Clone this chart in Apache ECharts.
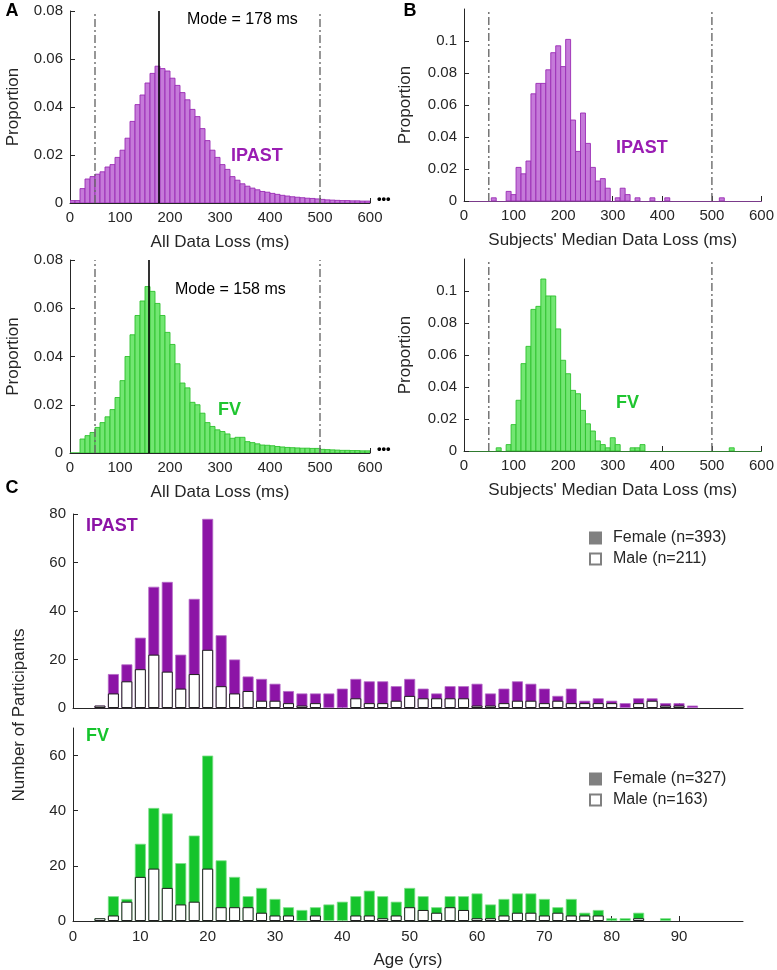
<!DOCTYPE html>
<html><head><meta charset="utf-8">
<script src="https://cdn.jsdelivr.net/npm/echarts@6/dist/echarts.min.js"></script>
<style>html,body{margin:0;padding:0;background:#fff}#c{width:777px;height:970px}</style>
</head><body><div id="c"></div>
<script>
const FONT = '"Liberation Sans", Arial, Helvetica, sans-serif';
const TXT = '#262626';

// ---------- Panel A: all data loss histograms (bin left edges, 10 ms bins) ----------
const aBinWidth = 10;
const aBinEdges = [0,10,20,30,40,50,60,70,80,90,100,110,120,130,140,150,160,170,180,190,
  200,210,220,230,240,250,260,270,280,290,300,310,320,330,340,350,360,370,380,390,
  400,410,420,430,440,450,460,470,480,490,500,510,520,530,540,550,560,570,580,590];
const aIpastProp = [0.001,0.001,0.006,0.010,0.011,0.012,0.013,0.015,0.016,0.019,
  0.022,0.027,0.034,0.041,0.045,0.050,0.054,0.057,0.056,0.055,
  0.052,0.049,0.046,0.043,0.039,0.036,0.031,0.026,0.022,0.019,
  0.016,0.014,0.011,0.0095,0.008,0.007,0.0062,0.0055,0.0048,0.0045,
  0.004,0.0036,0.0032,0.0029,0.0026,0.0024,0.0022,0.002,0.0019,0.0017,
  0.0015,0.0013,0.0012,0.0011,0.001,0.001,0.0009,0.0009,0.0008,0.0008];
const aFvProp = [0,0,0.0058,0.0072,0.0085,0.0106,0.0126,0.015,0.018,0.023,
  0.030,0.040,0.049,0.057,0.063,0.069,0.067,0.062,0.057,0.050,
  0.045,0.037,0.029,0.027,0.021,0.020,0.0165,0.0126,0.011,0.0096,
  0.0089,0.0079,0.0061,0.0065,0.0065,0.0047,0.0043,0.0038,0.0033,0.0032,
  0.003,0.0027,0.0025,0.0023,0.0022,0.0021,0.002,0.002,0.0019,0.0019,
  0.0015,0.0014,0.0013,0.0012,0.0011,0.0011,0.001,0.001,0.0009,0.0009];
const modeIpast = 178, modeFv = 158;
const cutoffs = [50, 500];

// ---------- Panel B: subjects' median data loss (bin centres, 10 ms bins) ----------
const bBinWidth = 10;
const bIpastBins = [60,90,100,110,120,130,140,150,160,170,180,190,200,210,220,230,240,250,260,270,280,290,310,320,330,350,380,410,520];
const bIpastProp = [0.002,0.006,0.004,0.021,0.017,0.025,0.067,0.0735,0.0735,0.082,0.0927,0.097,0.084,0.101,0.0506,0.031,0.055,0.036,0.021,0.0125,0.014,0.008,0.002,0.008,0.004,0.002,0.002,0.002,0.002];
const bFvBins = [70,90,100,110,120,130,140,150,160,170,180,190,200,210,220,230,240,250,260,270,280,290,300,310,340,350,360,540];
const bFvProp = [0.002,0.004,0.0165,0.0317,0.0546,0.0654,0.0885,0.0904,0.1075,0.0969,0.0969,0.0763,0.0567,0.0483,0.0379,0.0358,0.0254,0.017,0.0125,0.0063,0.004,0.002,0.0083,0.004,0.002,0.002,0.004,0.002];

// ---------- Panel C: participants by age ----------
const cAges = [4,6,8,10,12,14,16,18,20,22,24,26,28,30,32,34,36,38,40,42,44,46,48,50,52,54,56,58,60,62,64,66,68,70,72,74,76,78,80,82,84,86,88,90,92];
const cIpastTotal = [1,14,18,29,50,52,22,45,78,30,20,13,12,10,7,6,6,6,8,12,11,11,9,12,8,6,9,9,10,6,8,11,10,8,5,8,3,4,3,2,4,4,2,2,1];
const cIpastMale  = [1,6,11,16,22,15,8,14,24,9,6,7,3,3,2,1,2,0,0,4,2,2,3,5,4,4,4,4,1,1,2,3,3,2,3,2,2,2,2,0,2,3,1,1,0];
const cFvTotal = [1,9,8,28,41,39,21,31,60,22,16,9,12,8,5,4,5,6,7,9,11,9,7,12,9,5,9,9,10,6,8,10,10,8,5,8,3,4,1,1,3,0,1,0,0];
const cFvMale  = [1,2,7,16,19,12,6,7,19,5,5,5,3,2,2,0,2,0,0,2,2,1,2,5,4,3,5,4,1,1,2,3,3,2,3,2,2,2,0,0,1,0,0,0,0];
const cIpastLegend = ['Female (n=393)', 'Male (n=211)'];
const cFvLegend = ['Female (n=327)', 'Male (n=163)'];

// ---------- tick labels ----------
const msTicks = [0,100,200,300,400,500,600];
const propTicksB = [0,0.02,0.04,0.06,0.08,0.1];
const ageTicks = [0,10,20,30,40,50,60,70,80,90];
const fvCountTicks = [0,20,40,60];

// ---------- styles ----------
const PUR_FILL = '#c57ad9', PUR_EDGE = '#9a2bb4';
const GRN_FILL = '#72e672', GRN_EDGE = '#2ec22e';
const PUR_C = '#8c14a6', PUR_C_EDGE = '#b56ac8';
const GRN_C = '#15c42c', GRN_C_EDGE = '#7fe08a';
const PUR_TXT = '#9a1db3', GRN_TXT = '#1fc530';

const propFmt = v => v === 0 ? '0' : String(Math.round(v * 100) / 100);

function axisBase(extra) {
  return Object.assign({
    type: 'value',
    axisLine: { show: true, onZero: false, lineStyle: { color: TXT, width: 1 } },
    axisTick: { show: true, inside: true, length: 5, lineStyle: { color: TXT, width: 1 } },
    axisLabel: { color: TXT, fontSize: 15, fontFamily: FONT, margin: 7 },
    splitLine: { show: false },
    nameTextStyle: { color: TXT, fontSize: 17, fontFamily: FONT },
    nameLocation: 'middle'
  }, extra);
}

function histSeries(idx, data, fill, edge) {
  return {
    type: 'custom', xAxisIndex: idx, yAxisIndex: idx, data: data,
    encode: { x: [0, 1], y: 2 }, clip: true, silent: true,
    renderItem: function (params, api) {
      const p0 = api.coord([api.value(0), 0]);
      const p1 = api.coord([api.value(1), api.value(2)]);
      return { type: 'rect', shape: { x: p0[0], y: p1[1], width: p1[0] - p0[0], height: p0[1] - p1[1] },
        style: { fill: fill, stroke: edge, lineWidth: 0.9 } };
    }
  };
}
function vline(idx, x, yMax, color, width, type) {
  return { type: 'line', xAxisIndex: idx, yAxisIndex: idx, data: [[x, 0], [x, yMax]], symbol: 'none',
    silent: true, z: 5, lineStyle: { color: color, width: width, type: type } };
}

const aIpastData = aBinEdges.map((e, i) => [e, e + aBinWidth, aIpastProp[i]]);
const aFvData = aBinEdges.map((e, i) => [e, e + aBinWidth, aFvProp[i]]);
const bIpastData = bIpastBins.map((c, i) => [c - bBinWidth / 2, c + bBinWidth / 2, bIpastProp[i]]);
const bFvData = bFvBins.map((c, i) => [c - bBinWidth / 2, c + bBinWidth / 2, bFvProp[i]]);
const pairs = (arr) => cAges.map((a, i) => [a, arr[i] > 0 ? arr[i] : null]);

const DASH = [8, 3, 2, 3];
const GRAYL = '#6a6a6a';

const grids = [
  { left: 70, top: 11, width: 300, height: 192 },
  { left: 70, top: 260, width: 300, height: 193 },
  { left: 464, top: 9, width: 300, height: 192 },
  { left: 464, top: 259, width: 300, height: 192 },
  { left: 73, top: 514, width: 670, height: 194 },
  { left: 73, top: 728, width: 670, height: 193 }
];

const xAxes = [
  axisBase({ gridIndex: 0, min: 0, max: 600, interval: 100, name: 'All Data Loss (ms)', nameGap: 31 }),
  axisBase({ gridIndex: 1, min: 0, max: 600, interval: 100, name: 'All Data Loss (ms)', nameGap: 31 }),
  axisBase({ gridIndex: 2, min: 0, max: 600, interval: 100, name: "Subjects' Median Data Loss (ms)", nameGap: 31,
    axisLine: { show: true, onZero: false, lineStyle: { color: '#7a3a8a', width: 1 } } }),
  axisBase({ gridIndex: 3, min: 0, max: 600, interval: 100, name: "Subjects' Median Data Loss (ms)", nameGap: 31,
    axisLine: { show: true, onZero: false, lineStyle: { color: '#2f7a2f', width: 1 } } }),
  axisBase({ gridIndex: 4, min: 0, max: 99.5,
    axisTick: { show: true, inside: true, length: 5, customValues: ageTicks, lineStyle: { color: TXT } },
    axisLabel: { show: false } }),
  axisBase({ gridIndex: 5, min: 0, max: 99.5, name: 'Age (yrs)', nameGap: 31,
    axisTick: { show: true, inside: true, length: 5, customValues: ageTicks, lineStyle: { color: TXT } },
    axisLabel: { color: TXT, fontSize: 15, fontFamily: FONT, margin: 8, customValues: ageTicks } })
];
const yAxes = [
  axisBase({ gridIndex: 0, min: 0, max: 0.08, interval: 0.02, name: 'Proportion', nameGap: 48,
    axisLabel: { color: TXT, fontSize: 15, fontFamily: FONT, margin: 7, formatter: propFmt } }),
  axisBase({ gridIndex: 1, min: 0, max: 0.08, interval: 0.02, name: 'Proportion', nameGap: 48,
    axisLabel: { color: TXT, fontSize: 15, fontFamily: FONT, margin: 7, formatter: propFmt } }),
  axisBase({ gridIndex: 2, min: 0, max: 0.12, name: 'Proportion', nameGap: 50,
    axisTick: { show: true, inside: true, length: 5, customValues: propTicksB, lineStyle: { color: TXT } },
    axisLabel: { color: TXT, fontSize: 15, fontFamily: FONT, margin: 7, customValues: propTicksB, formatter: propFmt } }),
  axisBase({ gridIndex: 3, min: 0, max: 0.12, name: 'Proportion', nameGap: 50,
    axisTick: { show: true, inside: true, length: 5, customValues: propTicksB, lineStyle: { color: TXT } },
    axisLabel: { color: TXT, fontSize: 15, fontFamily: FONT, margin: 7, customValues: propTicksB, formatter: propFmt } }),
  axisBase({ gridIndex: 4, min: 0, max: 80, interval: 20 }),
  axisBase({ gridIndex: 5, min: 0, max: 70,
    axisTick: { show: true, inside: true, length: 5, customValues: fvCountTicks, lineStyle: { color: TXT } },
    axisLabel: { color: TXT, fontSize: 15, fontFamily: FONT, margin: 7, customValues: fvCountTicks } })
];

function cBars(idx, total, male, fill, edge) {
  return [
    { type: 'bar', xAxisIndex: idx, yAxisIndex: idx, data: pairs(total), barWidth: 11, barGap: '-100%',
      itemStyle: { color: fill, borderColor: edge, borderWidth: 0.8 }, silent: true },
    { type: 'bar', xAxisIndex: idx, yAxisIndex: idx, data: pairs(male), barWidth: 11, barGap: '-100%',
      itemStyle: { color: '#ffffff', borderColor: '#1e1e1e', borderWidth: 1 }, silent: true }
  ];
}

const series = [
  histSeries(0, aIpastData, PUR_FILL, PUR_EDGE),
  vline(0, cutoffs[0], 0.08, GRAYL, 1.4, DASH), vline(0, cutoffs[1], 0.08, GRAYL, 1.4, DASH),
  vline(0, modeIpast, 0.08, '#000', 1.6, 'solid'),
  histSeries(1, aFvData, GRN_FILL, GRN_EDGE),
  vline(1, cutoffs[0], 0.08, GRAYL, 1.4, DASH), vline(1, cutoffs[1], 0.08, GRAYL, 1.4, DASH),
  vline(1, modeFv, 0.08, '#000', 1.6, 'solid'),
  histSeries(2, bIpastData, PUR_FILL, PUR_EDGE),
  vline(2, cutoffs[0], 0.12, GRAYL, 1.4, DASH), vline(2, cutoffs[1], 0.12, GRAYL, 1.4, DASH),
  histSeries(3, bFvData, GRN_FILL, GRN_EDGE),
  vline(3, cutoffs[0], 0.12, GRAYL, 1.4, DASH), vline(3, cutoffs[1], 0.12, GRAYL, 1.4, DASH)
].concat(cBars(4, cIpastTotal, cIpastMale, PUR_C, PUR_C_EDGE))
 .concat(cBars(5, cFvTotal, cFvMale, GRN_C, GRN_C_EDGE));

function txt(x, y, text, size, color, weight, align) {
  return { type: 'text', x: x, y: y, silent: true,
    style: { text: text, fill: color || TXT, font: (weight || 'normal') + ' ' + size + 'px ' + FONT,
      textAlign: align || 'left', textVerticalAlign: 'middle' } };
}
function legend(y1, y2, labels) {
  return [
    { type: 'rect', shape: { x: 589, y: y1 - 6.5, width: 13, height: 13 }, style: { fill: '#808080' }, silent: true },
    txt(613, y1, labels[0], 16),
    { type: 'rect', shape: { x: 590, y: y2 - 5.5, width: 11, height: 11 }, style: { fill: '#fff', stroke: '#808080', lineWidth: 2 }, silent: true },
    txt(613, y2, labels[1], 16)
  ];
}

const graphic = [
  txt(12, 11, 'A', 18, '#000', 'bold', 'center'),
  txt(410, 11, 'B', 18, '#000', 'bold', 'center'),
  txt(12, 488, 'C', 18, '#000', 'bold', 'center'),
  txt(187, 20, 'Mode = 178 ms', 16, '#000'),
  txt(175, 290, 'Mode = 158 ms', 16, '#000'),
  txt(231, 156, 'IPAST', 18, PUR_TXT, 'bold'),
  txt(218, 410, 'FV', 18, GRN_TXT, 'bold'),
  txt(616, 148, 'IPAST', 18, PUR_TXT, 'bold'),
  txt(616, 403, 'FV', 18, GRN_TXT, 'bold'),
  txt(86, 526, 'IPAST', 18, PUR_C, 'bold'),
  txt(86, 736, 'FV', 18, GRN_C, 'bold'),
  txt(377, 199, '•••', 13, '#000', 'bold'),
  txt(377, 449, '•••', 13, '#000', 'bold'),
  { type: 'text', x: 19, y: 715, rotation: Math.PI / 2, silent: true,
    style: { text: 'Number of Participants', fill: TXT, font: '17px ' + FONT, textAlign: 'center', textVerticalAlign: 'middle' } }
].concat(legend(538, 559, cIpastLegend)).concat(legend(779, 800, cFvLegend));

const chart = echarts.init(document.getElementById('c'), null, { renderer: 'canvas' });
chart.setOption({
  animation: false,
  backgroundColor: '#fff',
  textStyle: { fontFamily: FONT },
  grid: grids, xAxis: xAxes, yAxis: yAxes, series: series, graphic: graphic
});
</script></body></html>
